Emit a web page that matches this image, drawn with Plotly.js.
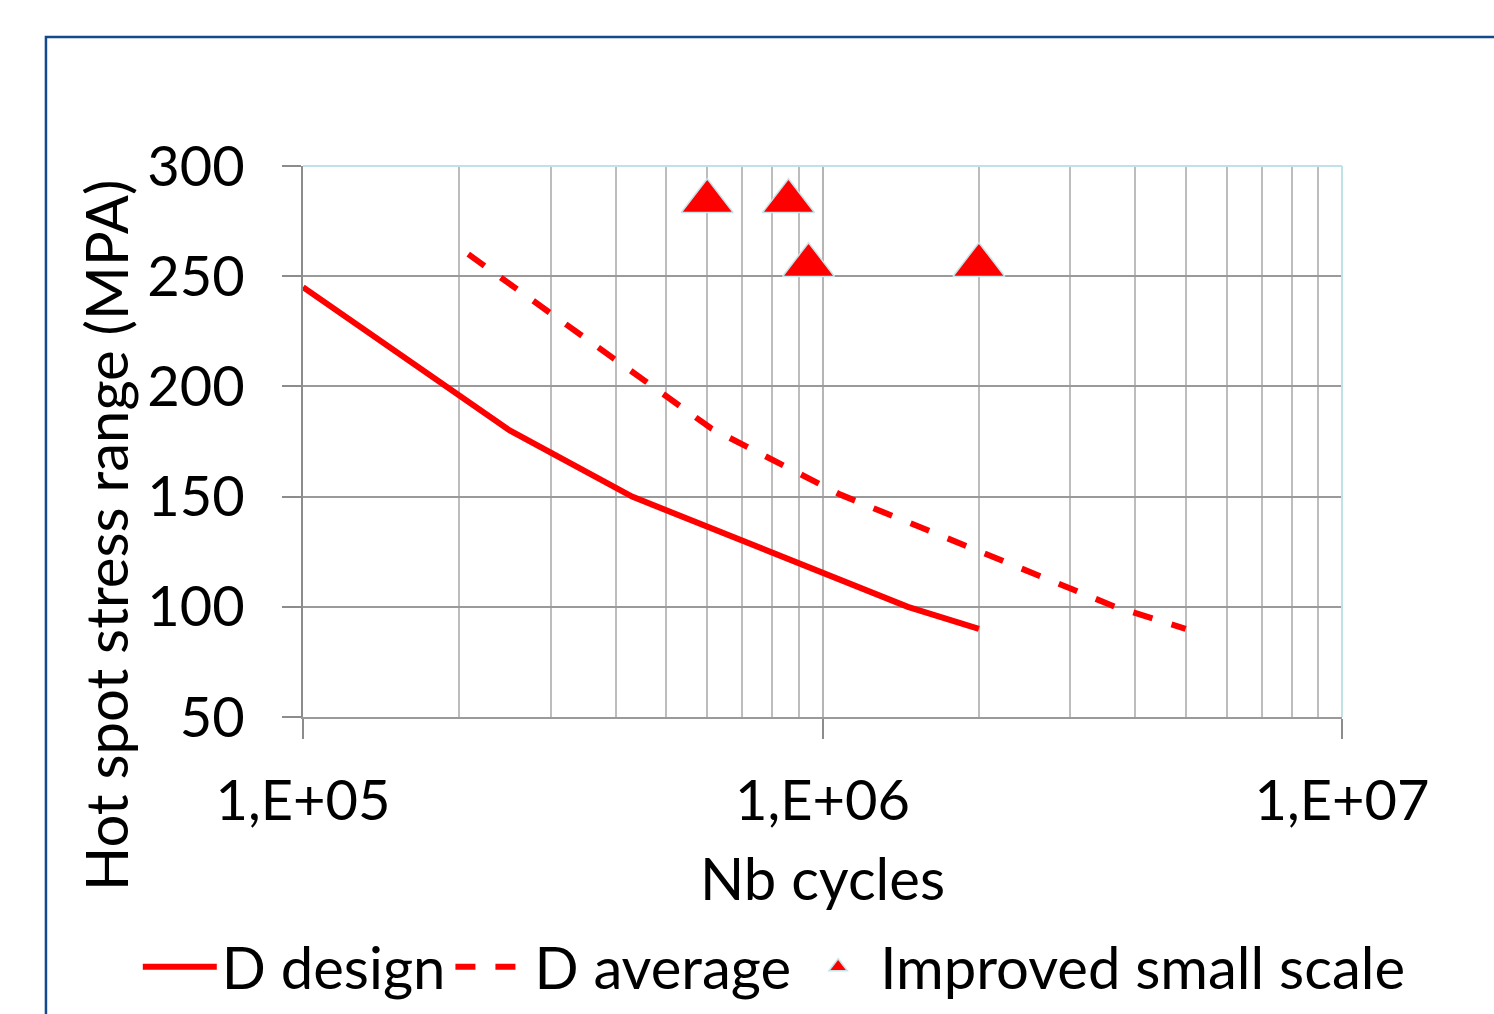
<!DOCTYPE html>
<html>
<head>
<meta charset="utf-8">
<script src="https://cdn.plot.ly/plotly-3.0.1.min.js"></script>
<style>
html,body{margin:0;padding:0;background:#fff;}
#chart{width:1494px;height:1014px;}
</style>
</head>
<body>
<div id="chart"></div>
<script>
// ---- data ----
const designCycles = [1.0e5, 2.5e5, 4.3e5, 1.46e6, 2.0e6];
const designStress = [245, 180, 150, 100, 90];

const averageCycles = [2.08e5, 6.1e5, 1.08e6, 3.66e6, 5.0e6];
const averageStress = [260, 181, 151, 100, 90];

const testCycles = [6.0e5, 8.6e5, 9.4e5, 2.0e6];
const testStress = [284, 284, 255, 255];

const xMajorTicks = [1e5, 1e6, 1e7];
const xMajorLabels = ["1,E+05", "1,E+06", "1,E+07"];
const xMinorTicks = [2e5,3e5,4e5,5e5,6e5,7e5,8e5,9e5,2e6,3e6,4e6,5e6,6e6,7e6,8e6,9e6];
const yTicks = [50, 100, 150, 200, 250, 300];

const seriesNames = ["D design", "D average", "Improved small scale"];
const xTitle = "Nb cycles";
const yTitle = "Hot spot stress range (MPA)";

const FONT = "Lato, 'Open Sans', sans-serif";
const FS = 56;
const FS2 = 58;

const traces = [
  {
    x: designCycles, y: designStress, name: seriesNames[0],
    type: "scatter", mode: "lines",
    line: {color: "#ff0000", width: 6}
  },
  {
    x: averageCycles, y: averageStress, name: seriesNames[1],
    type: "scatter", mode: "lines",
    line: {color: "#ff0000", width: 6, dash: "20px,20px"}
  },
  {
    x: testCycles, y: testStress, name: seriesNames[2],
    type: "scatter", mode: "markers",
    marker: {symbol: "triangle-up", size: 45, color: "#ff0000",
             line: {color: "#c6e4e8", width: 1.5}}
  }
];

const layout = {
  width: 1494, height: 1014,
  margin: {l: 303, r: 152, t: 166, b: 297, pad: 0, autoexpand: false},
  paper_bgcolor: "#ffffff", plot_bgcolor: "#ffffff",
  font: {family: FONT, size: FS, color: "#000000"},
  showlegend: true,
  legend: {
    orientation: "h", x: -0.159, xanchor: "left", y: -0.4537, yanchor: "middle",
    font: {family: FONT, size: FS2, color: "#000000"},
    itemwidth: 74, traceorder: "normal", bgcolor: "rgba(0,0,0,0)"
  },
  xaxis: {
    type: "log", range: [5, 7],
    tickmode: "array", tickvals: xMajorTicks, ticktext: xMajorLabels,
    ticks: "outside", ticklen: 20, tickwidth: 2, tickcolor: "#8c8c8c",
    ticklabelstandoff: 14,
    showline: true, linecolor: "#9a9a9a", linewidth: 2,
    showgrid: true, gridcolor: "#b5b5b5", gridwidth: 2,
    minor: {tickmode: "array", tickvals: xMinorTicks, showgrid: true,
            gridcolor: "#bdbdbd", gridwidth: 2, ticks: ""},
    zeroline: false,
    tickfont: {family: FONT, size: FS, color: "#000"},
    title: {text: xTitle, font: {family: FONT, size: FS2, color: "#000"}, standoff: 28},
    automargin: false, fixedrange: true
  },
  yaxis: {
    range: [50, 300],
    tickmode: "array", tickvals: yTicks,
    ticks: "outside", ticklen: 19, tickwidth: 2, tickcolor: "#8c8c8c",
    ticklabelstandoff: 26,
    showline: true, linecolor: "#8c8c8c", linewidth: 2,
    showgrid: true, gridcolor: "#9a9a9a", gridwidth: 2,
    zeroline: false,
    tickfont: {family: FONT, size: FS, color: "#000"},
    automargin: false, fixedrange: true
  },
  annotations: [
    {text: yTitle, xref: "paper", yref: "paper",
     x: (105 - 303) / 1039, y: (717 - 535) / 551, xanchor: "center", yanchor: "middle",
     textangle: -90, showarrow: false,
     font: {family: FONT, size: FS2, color: "#000"}}
  ],
  shapes: [
    {type: "rect", xref: "paper", yref: "paper",
     x0: -0.2474, x1: 1.3, y0: -0.8, y1: 1.234,
     line: {color: "#134a8c", width: 2.5}, fillcolor: "rgba(0,0,0,0)", layer: "below"},
    {type: "line", xref: "paper", yref: "paper", x0: 0, x1: 1, y0: 1, y1: 1,
     line: {color: "#bfe2e6", width: 2}},
    {type: "line", xref: "paper", yref: "paper", x0: 1, x1: 1, y0: 0, y1: 1,
     line: {color: "#bfe2e6", width: 2}}
  ]
};

Plotly.newPlot("chart", traces, layout, {displayModeBar: false, staticPlot: true});
</script>
</body>
</html>
